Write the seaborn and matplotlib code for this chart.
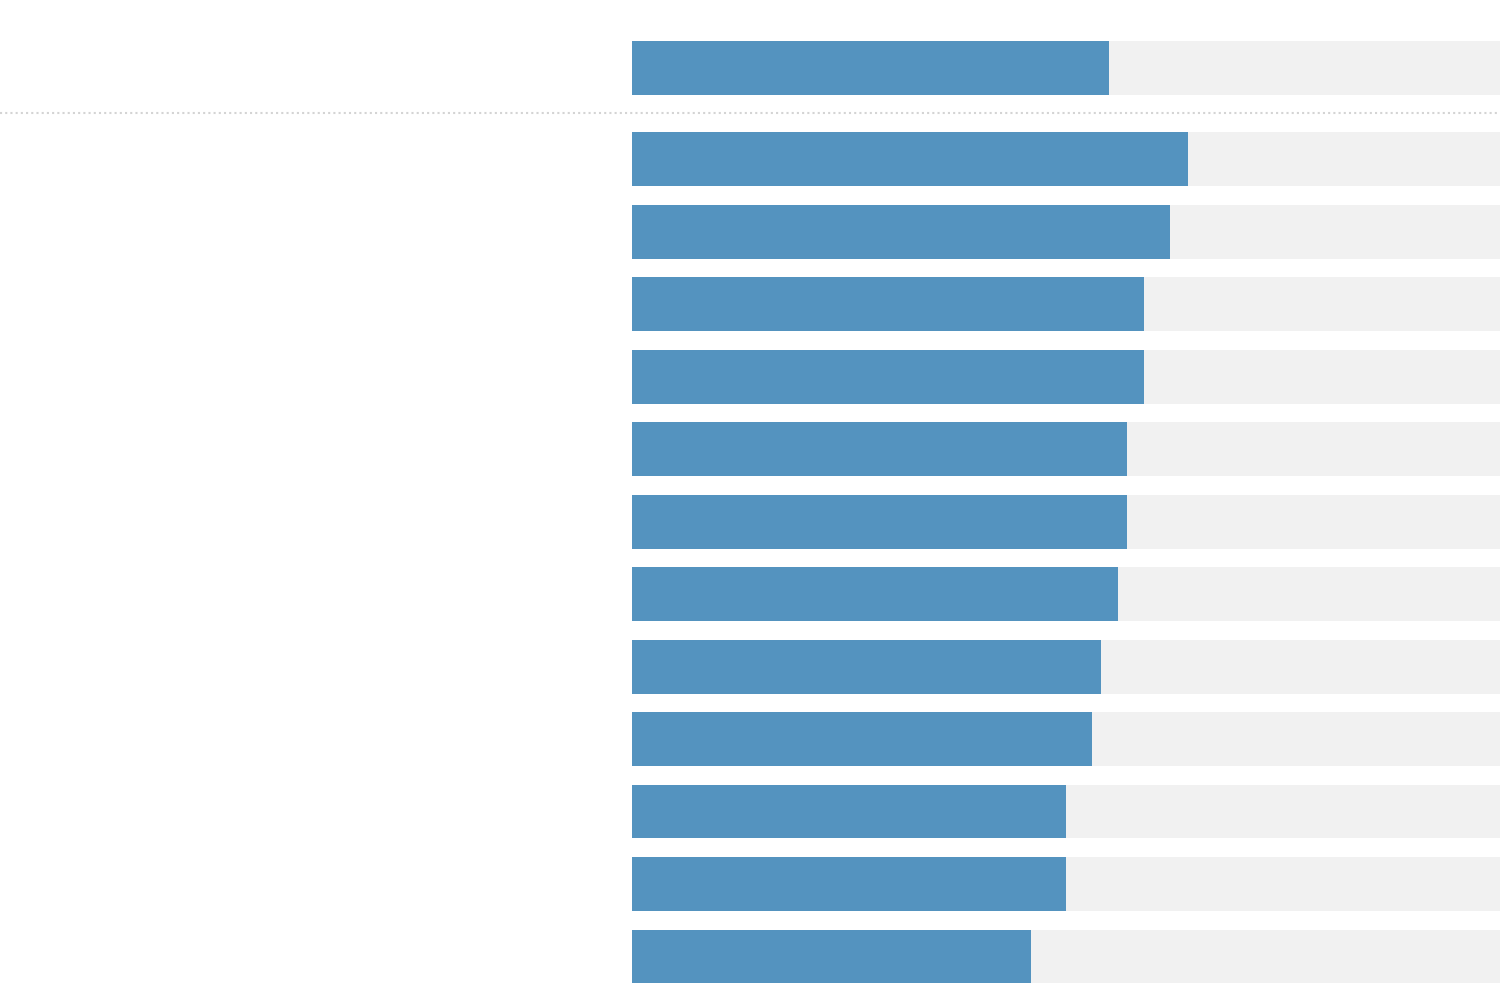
import matplotlib
matplotlib.use("Agg")
import matplotlib.pyplot as plt
from matplotlib.lines import Line2D
import seaborn as sns
import pandas as pd

# summary bar on top, then the 12 ranked rows
summary_label = ["Total"]
summary_value = [55]

row_labels = [f"Row {i}" for i in range(1, 13)]
row_values = [64, 62, 59, 59, 57, 57, 56, 54, 53, 50, 50, 46]

scale_max = 100
bar_color = "#5493bf"
track_color = "#f1f1f1"

sns.set_theme(style="white")

fig = plt.figure(figsize=(15, 9.96), dpi=100)
W, H = 1500, 996
left = 632 / W
row_px = 72.5
bar_w = 54 / row_px


def draw_bars(ax, labels, values):
    df = pd.DataFrame({"label": labels, "value": values, "max": [scale_max] * len(values)})
    sns.barplot(data=df, y="label", x="max", color=track_color, width=bar_w,
                linewidth=0, saturation=1, ax=ax, orient="h")
    sns.barplot(data=df, y="label", x="value", color=bar_color, width=bar_w,
                linewidth=0, saturation=1, ax=ax, orient="h")
    ax.set_xlim(0, scale_max)
    ax.set_ylim(len(values) - 0.5, -0.5)
    ax.axis("off")


# top axes: one row centred at y=68 px
top_h = row_px / H
ax_top = fig.add_axes([left, 1 - (68 + row_px / 2) / H, 1 - left, top_h])
draw_bars(ax_top, summary_label, summary_value)

# main axes: 12 rows, first centre at y=159 px
n = len(row_values)
main_top = 159 - row_px / 2
main_h = row_px * n / H
ax_main = fig.add_axes([left, 1 - (main_top + row_px * n) / H, 1 - left, main_h])
draw_bars(ax_main, row_labels, row_values)

# dotted separator
sep_y = 1 - 113 / H
fig.add_artist(Line2D([0, 1], [sep_y, sep_y], transform=fig.transFigure,
                      color="#d4d4d4", linewidth=1.5, linestyle=(0, (1, 1.5))))

fig.savefig("out.png", dpi=100, facecolor="white")
